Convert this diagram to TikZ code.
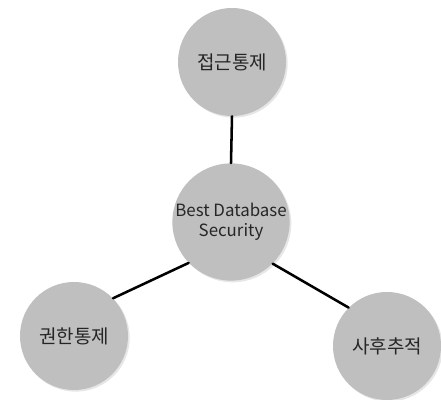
\documentclass[tikz,border=0pt]{standalone}
\usepackage{fontspec}
\setmainfont{Noto Sans CJK KR}
\usetikzlibrary{shadows}

\begin{document}
\begin{tikzpicture}[
        topic/.style={circle, fill=black!25, minimum size=2.7cm, inner sep=0pt, align=center,
            font=\fontsize{12}{14.2}\selectfont, text=black!85,
            drop shadow={opacity=0.2, shadow xshift=1.2pt, shadow yshift=-1.2pt}},
        kor/.style={font=\fontsize{13.5}{16}\selectfont},
        link/.style={line width=1.8pt, black, line cap=round}
    ]
        \useasboundingbox (0, 0) rectangle (11.025, 10);

        \node[topic, kor] (access) at (5.8, 8.45) {접근통제};
        \node[topic] (best) at (5.775, 4.45) {Best Database\\Security};
        \node[topic, kor] (priv) at (1.85, 1.6) {권한통제};
        \node[topic, kor] (audit) at (9.675, 1.35) {사후추적};

        \draw[link] (best.90) -- (access.270);
        \draw[link] (best.224) -- (priv.44);
        \draw[link] (best.-45) -- (audit.135);
    \end{tikzpicture}
\end{document}
